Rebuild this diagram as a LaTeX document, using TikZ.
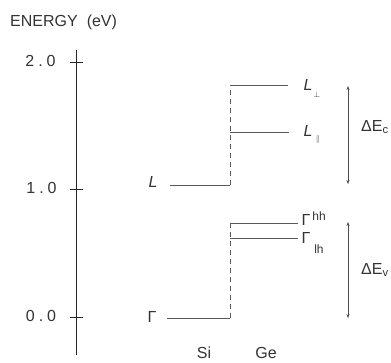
\documentclass[tikz,border=0pt]{standalone}
\usepackage{fontspec}
\setmainfont{Liberation Sans}
\usetikzlibrary{arrows.meta}
\begin{document}
\begin{tikzpicture}[x=1pt,y=-1pt,
  txt/.style={inner sep=0pt,text=black!80,font=\fontsize{16}{18}\selectfont},
  small/.style={inner sep=0pt,text=black!80,font=\fontsize{12}{13}\selectfont},
  axis/.style={draw=black!85,line width=0.8pt},
  level/.style={draw=black!65,line width=0.6pt},
  vdash/.style={draw=black!65,line width=0.6pt,dash pattern=on 5pt off 4pt},
  dim/.style={draw=black!70,line width=0.5pt,{Stealth[length=4pt,width=3pt]}-{Stealth[length=4pt,width=3pt]}}]
\useasboundingbox (0,0) rectangle (391,362);
% title
\node[txt,anchor=west] (title) at (10,22) {ENERGY\hspace{9pt}(eV)};
% axis
\coordinate (axtop) at (76,50);
\coordinate (axbot) at (76,355);
\draw[axis] (axtop) -- (axbot);
\coordinate (t2) at (76,62);
\coordinate (t1) at (76,189);
\coordinate (t0) at (76,317);
\foreach \t in {t2,t1,t0}{\draw[axis] ([xshift=-6pt]\t) -- ([xshift=7pt]\t);}
\node[txt] (n2) at (40.5,61) {2\hspace{4pt}.\hspace{4pt}0};
\node[txt] (n1) at (41.5,188) {1\hspace{4pt}.\hspace{4pt}0};
\node[txt] (n0) at (41,316) {0\hspace{4pt}.\hspace{4pt}0};
% Si levels
\coordinate (siL0) at (170,185);
\coordinate (siL1) at (230,185);
\coordinate (siG0) at (167,318);
\coordinate (siG1) at (230,318);
\draw[level] (siL0) -- (siL1);
\draw[level] (siG0) -- (siG1);
\node[txt] (labSiL) at (153,182) {\textit{L}};
\node[txt] (labSiG) at (152,317) {Γ};
% Ge levels
\coordinate (geLp0) at (230,85);
\coordinate (geLp1) at (288,85);
\coordinate (geLa0) at (230,132);
\coordinate (geLa1) at (289,132);
\coordinate (geHH0) at (230,223);
\coordinate (geHH1) at (298,223);
\coordinate (geLH0) at (230,238);
\coordinate (geLH1) at (298,238);
\draw[level] (geLp0) -- (geLp1);
\draw[level] (geLa0) -- (geLa1);
\draw[level] (geHH0) -- (geHH1);
\draw[level] (geLH0) -- (geLH1);
% dashed offsets
\draw[vdash] (siL1) -- (geLp0);
\draw[vdash] (siG1) -- (geHH0);
% Ge labels
\node[txt] (labLp) at (308,85) {\textit{L}};
\node[small] (subLp) at (317,95) {$\scriptstyle\perp$};
\node[txt] (labLa) at (308,131) {\textit{L}};
\node[small] (subLa) at (318,139) {$\scriptstyle\parallel$};
\node[txt] (labGhh) at (306,220) {Γ};
\node[small] (supHH) at (319,216) {hh};
\node[txt] (labGlh) at (306,238) {Γ};
\node[small] (subLH) at (319,249) {lh};
% offsets
\coordinate (ac1) at (348,86);
\coordinate (ac2) at (348,184);
\coordinate (av1) at (348,222);
\coordinate (av2) at (348,318);
\draw[dim] (ac1) -- (ac2);
\draw[dim] (av1) -- (av2);
\node[txt,anchor=west] (dEc) at (361,127) {ΔE\textsubscript{c}};
\node[txt,anchor=west] (dEv) at (361,270) {ΔE\textsubscript{v}};
% materials
\node[txt] (si) at (204,353) {Si};
\node[txt] (ge) at (266,353) {Ge};
\end{tikzpicture}
\end{document}
